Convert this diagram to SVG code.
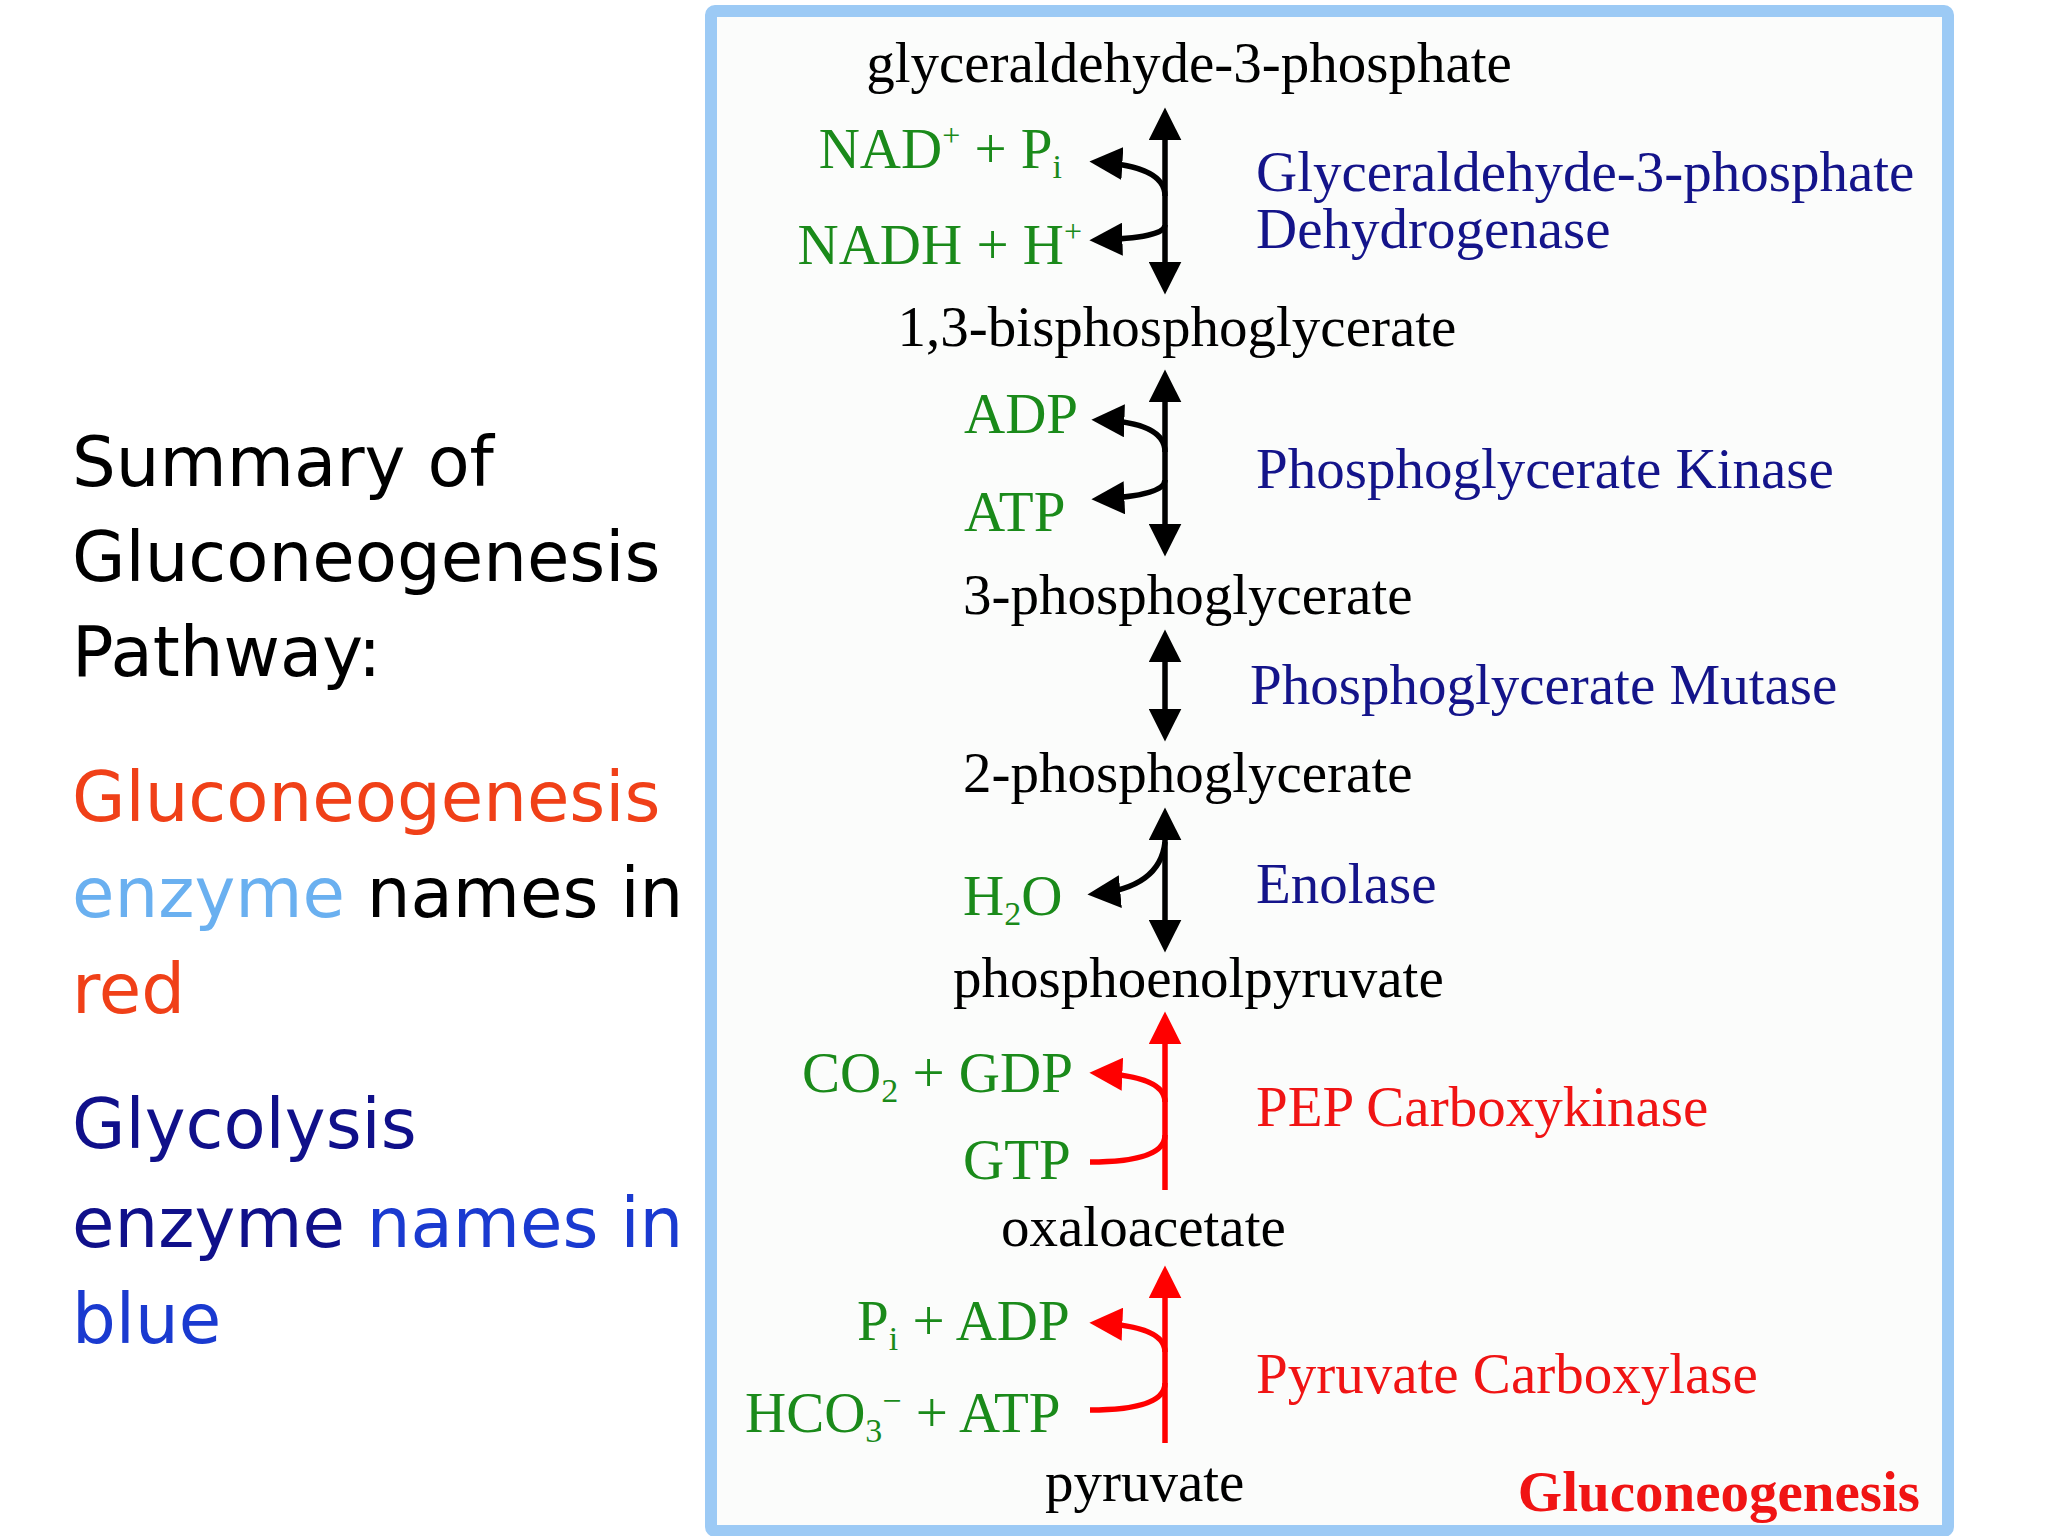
<svg xmlns="http://www.w3.org/2000/svg" width="2048" height="1536" viewBox="0 0 2048 1536">
<defs>
<marker id="ab" viewBox="0 0 10 10" refX="8" refY="5" markerWidth="6" markerHeight="6" orient="auto-start-reverse" markerUnits="strokeWidth"><path d="M0,0 L10,5 L0,10 z" fill="#000"/></marker>
<marker id="ar" viewBox="0 0 10 10" refX="8" refY="5" markerWidth="6" markerHeight="6" orient="auto-start-reverse" markerUnits="strokeWidth"><path d="M0,0 L10,5 L0,10 z" fill="#f00"/></marker>
</defs>
<style>
.s{font-family:"Liberation Serif","Times New Roman",serif;font-size:57px}
.k{fill:#000}.g{fill:#1a8a1a}.n{fill:#14148a}.r{fill:#f01414}
.l{font-family:"DejaVu Sans","Liberation Sans",sans-serif;font-size:69px}
.bk{stroke:#000;stroke-width:5.5;fill:none}
.rd{stroke:#f00;stroke-width:5.5;fill:none}
</style>
<rect width="2048" height="1536" fill="#fff"/>
<rect x="719" y="11" width="1237" height="1520" fill="#fbfcfb" stroke="#9ccaf5" stroke-width="12" rx="4" transform="translate(-8,0)"/>
<g id="left">
<text class="l" x="72" y="486" fill="#000">Summary of</text>
<text class="l" x="72" y="581" fill="#000">Gluconeogenesis</text>
<text class="l" x="72" y="676" fill="#000">Pathway:</text>
<text class="l" x="72" y="821" fill="#f04018">Gluconeogenesis</text>
<text class="l" x="72" y="917"><tspan fill="#6ab0f0">enzyme</tspan><tspan fill="#000"> names in</tspan></text>
<text class="l" x="72" y="1013" fill="#f04018">red</text>
<text class="l" x="72" y="1148" fill="#10108a">Glycolysis</text>
<text class="l" x="72" y="1247"><tspan fill="#10108a">enzyme</tspan><tspan fill="#1a3ad0"> names in</tspan></text>
<text class="l" x="72" y="1343" fill="#1a3ad0">blue</text>
</g>
<g transform="translate(-16,0)">
<g id="connectors">
<line class="bk" x1="1181" y1="114" x2="1181" y2="288" marker-start="url(#ab)" marker-end="url(#ab)"/>
<path class="bk" d="M1181,196 Q1181,166 1112,162" marker-end="url(#ab)"/>
<path class="bk" d="M1181,225 Q1181,238 1112,240" marker-end="url(#ab)"/>
<line class="bk" x1="1181" y1="376" x2="1181" y2="550" marker-start="url(#ab)" marker-end="url(#ab)"/>
<path class="bk" d="M1181,452 Q1181,422 1114,420" marker-end="url(#ab)"/>
<path class="bk" d="M1181,480 Q1181,496 1114,499" marker-end="url(#ab)"/>
<line class="bk" x1="1181" y1="636" x2="1181" y2="735" marker-start="url(#ab)" marker-end="url(#ab)"/>
<line class="bk" x1="1181" y1="814" x2="1181" y2="946" marker-start="url(#ab)" marker-end="url(#ab)"/>
<path class="bk" d="M1181,842 Q1176,888 1110,894" marker-end="url(#ab)"/>
<line class="rd" x1="1181" y1="1190" x2="1181" y2="1018" marker-end="url(#ar)"/>
<path class="rd" d="M1181,1102 Q1181,1076 1112,1073" marker-end="url(#ar)"/>
<path class="rd" d="M1106,1162 Q1181,1162 1181,1135"/>
<line class="rd" x1="1181" y1="1443" x2="1181" y2="1272" marker-end="url(#ar)"/>
<path class="rd" d="M1181,1352 Q1181,1326 1112,1323" marker-end="url(#ar)"/>
<path class="rd" d="M1106,1410 Q1181,1410 1181,1383"/>
</g>
<g id="metabolites" class="s">
<text class="k" x="1205" y="82" text-anchor="middle">glyceraldehyde-3-phosphate</text>
<text class="k" x="1193" y="346" text-anchor="middle">1,3-bisphosphoglycerate</text>
<text class="k" x="979" y="614">3-phosphoglycerate</text>
<text class="k" x="979" y="792">2-phosphoglycerate</text>
<text class="k" x="969" y="997">phosphoenolpyruvate</text>
<text class="k" x="1017" y="1246">oxaloacetate</text>
<text class="k" x="1061" y="1501">pyruvate</text>
</g>
<g id="cofactors" class="s">
<text class="g" x="1078" y="168" text-anchor="end">NAD<tspan dy="-22" font-size="32">+</tspan><tspan dy="22"> + P</tspan><tspan dy="10" font-size="34">i</tspan></text>
<text class="g" x="1098" y="264" text-anchor="end">NADH + H<tspan dy="-22" font-size="32">+</tspan></text>
<text class="g" x="980" y="433">ADP</text>
<text class="g" x="980" y="531">ATP</text>
<text class="g" x="979" y="915">H<tspan dy="10" font-size="34">2</tspan><tspan dy="-10">O</tspan></text>
<text class="g" x="818" y="1092">CO<tspan dy="10" font-size="34">2</tspan><tspan dy="-10"> + GDP</tspan></text>
<text class="g" x="979" y="1179">GTP</text>
<text class="g" x="873" y="1340">P<tspan dy="10" font-size="34">i</tspan><tspan dy="-10"> + ADP</tspan></text>
<text class="g" x="761" y="1432">HCO<tspan dy="10" font-size="34">3</tspan><tspan dy="-30" font-size="34">−</tspan><tspan dy="20"> + ATP</tspan></text>
</g>
<g id="enzymes" class="s">
<text class="n" x="1272" y="191">Glyceraldehyde-3-phosphate</text>
<text class="n" x="1272" y="248">Dehydrogenase</text>
<text class="n" x="1272" y="488">Phosphoglycerate Kinase</text>
<text class="n" x="1266" y="704">Phosphoglycerate Mutase</text>
<text class="n" x="1272" y="903">Enolase</text>
<text class="r" x="1272" y="1126">PEP Carboxykinase</text>
<text class="r" x="1272" y="1393">Pyruvate Carboxylase</text>
<text class="r" x="1936" y="1511" text-anchor="end" font-weight="bold">Gluconeogenesis</text>
</g>
</g>
</svg>
